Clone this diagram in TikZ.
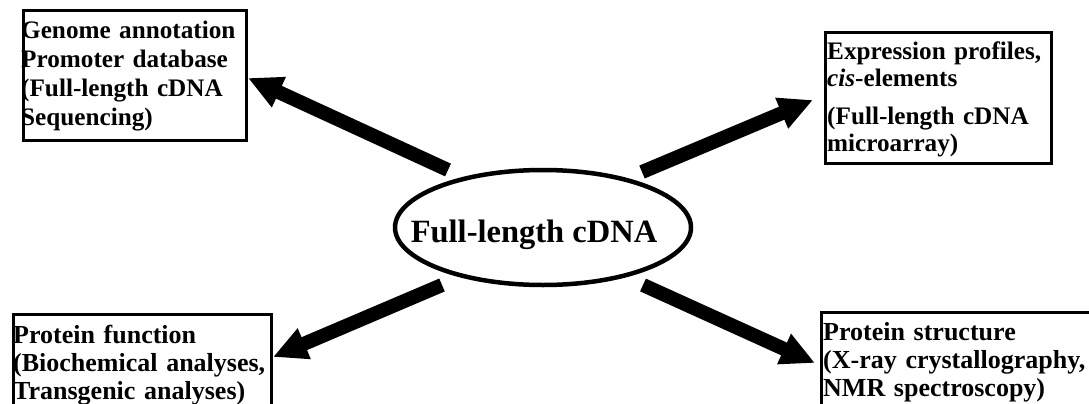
\documentclass[tikz,border=0pt]{standalone}
\usepackage{fontspec}
\setmainfont{Liberation Serif}
\usetikzlibrary{arrows.meta,shapes.geometric}
\begin{document}
\begin{tikzpicture}[x=1pt,y=-1pt,
  frame/.style={draw, line width=3pt, inner sep=0pt, anchor=north west},
  txt/.style={inner sep=0pt, anchor=north west, align=left},
  bigarrow/.style={line width=14pt, -{Triangle[width=31pt,length=34pt]}},
]
\clip (0,0) rectangle (1089,404);

% central ellipse and its label
\node[draw, ellipse, line width=4.5pt, minimum width=296pt, minimum height=115pt, inner sep=0pt] (cdna) at (543,227.5) {};
\node[anchor=base, inner sep=0pt, font=\bfseries\fontsize{32.5}{36}\selectfont] (cdnatxt) at (534,242) {Full-length cDNA};

% frames
\node[frame, minimum width=223pt, minimum height=129pt] (b1) at (21.5,9.5) {};
\node[frame, minimum width=225.5pt, minimum height=131pt] (b2) at (824,31.3) {};
\node[frame, minimum width=257.5pt, minimum height=110pt] (b3) at (12,313.3) {};
\node[frame, minimum width=300pt, minimum height=110pt] (b4) at (820.3,311.2) {};

% frame texts
\node[txt, text width=222pt, font=\bfseries\fontsize{25.2}{29}\selectfont] (t1) at (21,17.7)
  {\strut Genome annotation\\Promoter database\\(Full-length cDNA\\Sequencing)};
\node[txt, text width=222pt, font=\bfseries\fontsize{25.2}{27}\selectfont] (t2) at (827,40.1)
  {\strut Expression profiles,\\\textit{cis}-elements\\[11pt](Full-length cDNA\\microarray)};
\node[txt, text width=255pt, font=\bfseries\fontsize{26}{28}\selectfont] (t3) at (13,323.4)
  {\strut Protein function\\(Biochemical analyses,\\Transgenic analyses)};
\node[txt, text width=265pt, font=\bfseries\fontsize{26}{28}\selectfont] (t4) at (823,320.4)
  {\strut Protein structure\\(X-ray crystallography,\\NMR spectroscopy)};

% arrow ends
\coordinate (a1s) at (448,170);
\coordinate (a1e) at (248,78);
\coordinate (a2s) at (642,172);
\coordinate (a2e) at (813,100);
\coordinate (a3s) at (442,285);
\coordinate (a3e) at (273,357);
\coordinate (a4s) at (643,285);
\coordinate (a4e) at (815,363);

\draw[bigarrow] (a1s) -- (a1e);
\draw[bigarrow] (a2s) -- (a2e);
\draw[bigarrow] (a3s) -- (a3e);
\draw[bigarrow] (a4s) -- (a4e);
\end{tikzpicture}
\end{document}
